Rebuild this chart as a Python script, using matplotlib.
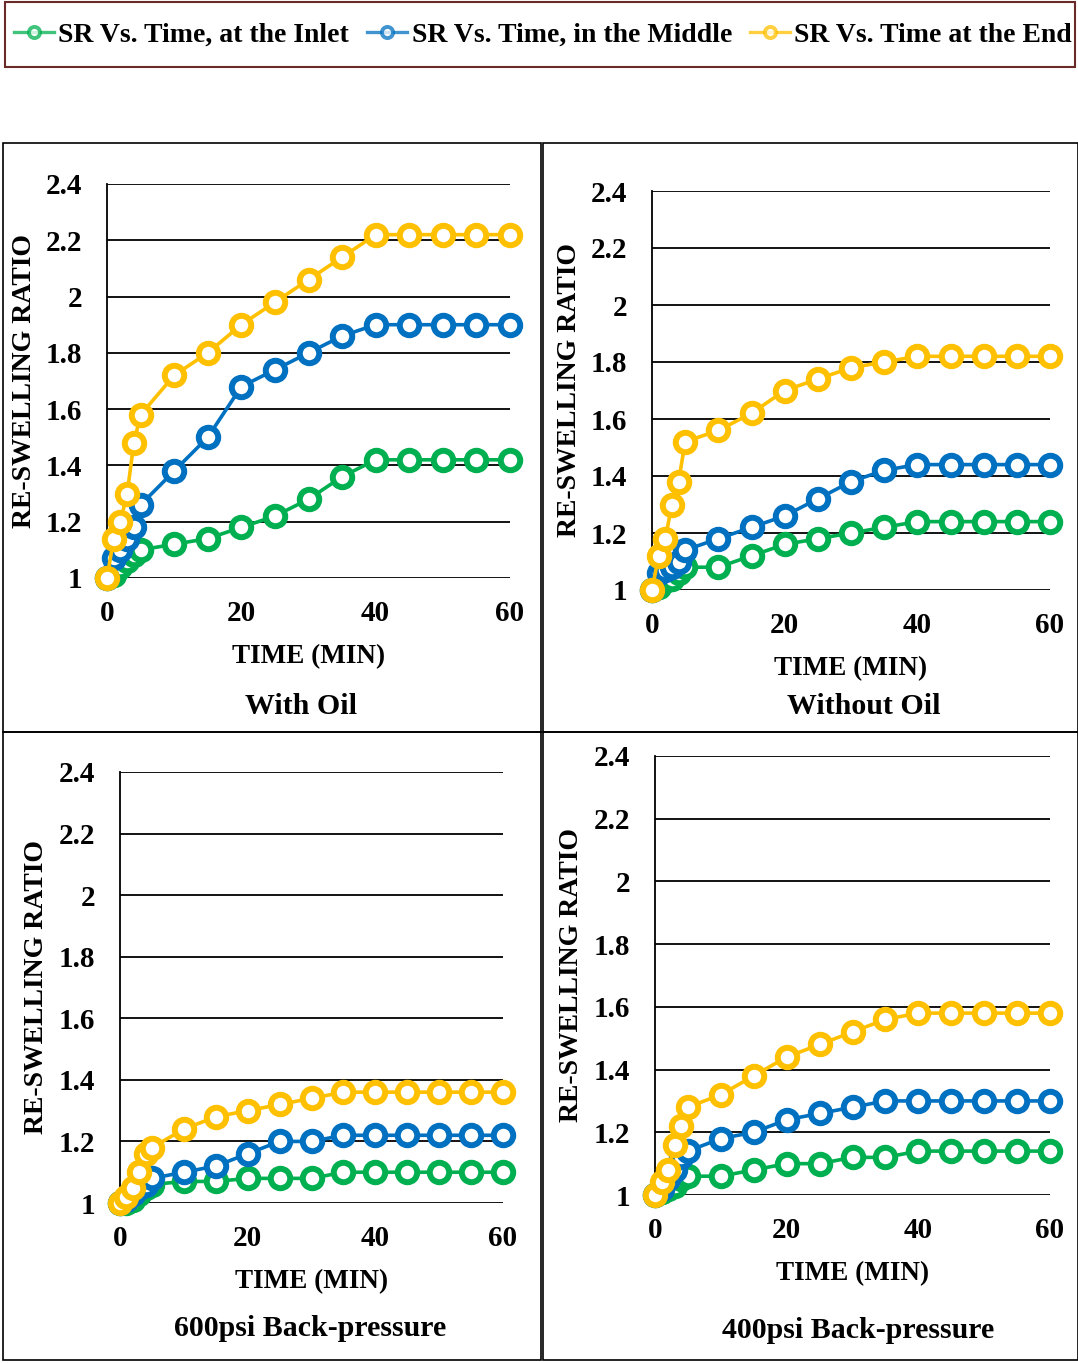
import matplotlib
matplotlib.use("Agg")
import matplotlib.pyplot as plt
from matplotlib.patches import Rectangle
from matplotlib.lines import Line2D

W, H = 1078, 1363

time_min = [0, 1, 2, 3, 4, 5, 10, 15, 20, 25, 30, 35, 40, 45, 50, 55, 60]

# With Oil
oil_inlet = [1.0, 1.01, 1.04, 1.06, 1.08, 1.10, 1.12, 1.14, 1.18, 1.22, 1.28, 1.36, 1.42, 1.42, 1.42, 1.42, 1.42]
oil_middle = [1.0, 1.07, 1.10, 1.14, 1.18, 1.26, 1.38, 1.50, 1.68, 1.74, 1.80, 1.86, 1.90, 1.90, 1.90, 1.90, 1.90]
oil_end = [1.0, 1.14, 1.20, 1.30, 1.48, 1.58, 1.72, 1.80, 1.90, 1.98, 2.06, 2.14, 2.22, 2.22, 2.22, 2.22, 2.22]

# Without Oil
nooil_inlet = [1.0, 1.01, 1.03, 1.04, 1.06, 1.08, 1.08, 1.12, 1.16, 1.18, 1.20, 1.22, 1.24, 1.24, 1.24, 1.24, 1.24]
nooil_middle = [1.0, 1.06, 1.07, 1.08, 1.10, 1.14, 1.18, 1.22, 1.26, 1.32, 1.38, 1.42, 1.44, 1.44, 1.44, 1.44, 1.44]
nooil_end = [1.0, 1.12, 1.18, 1.30, 1.38, 1.52, 1.56, 1.62, 1.70, 1.74, 1.78, 1.80, 1.82, 1.82, 1.82, 1.82, 1.82]

# 600psi Back-pressure
bp600_inlet = [1.0, 1.0, 1.01, 1.03, 1.05, 1.06, 1.07, 1.07, 1.08, 1.08, 1.08, 1.10, 1.10, 1.10, 1.10, 1.10, 1.10]
bp600_middle = [1.0, 1.01, 1.03, 1.05, 1.06, 1.08, 1.10, 1.12, 1.16, 1.20, 1.20, 1.22, 1.22, 1.22, 1.22, 1.22, 1.22]
bp600_end = [1.0, 1.02, 1.05, 1.10, 1.16, 1.18, 1.24, 1.28, 1.30, 1.32, 1.34, 1.36, 1.36, 1.36, 1.36, 1.36, 1.36]

# 400psi Back-pressure
bp400_inlet = [1.0, 1.01, 1.02, 1.03, 1.05, 1.06, 1.06, 1.08, 1.10, 1.10, 1.12, 1.12, 1.14, 1.14, 1.14, 1.14, 1.14]
bp400_middle = [1.0, 1.02, 1.05, 1.08, 1.12, 1.14, 1.18, 1.20, 1.24, 1.26, 1.28, 1.30, 1.30, 1.30, 1.30, 1.30, 1.30]
bp400_end = [1.0, 1.04, 1.08, 1.16, 1.22, 1.28, 1.32, 1.38, 1.44, 1.48, 1.52, 1.56, 1.58, 1.58, 1.58, 1.58, 1.58]

series_names = ["SR Vs. Time, at the Inlet", "SR Vs. Time, in the Middle", "SR Vs. Time at the End"]
colors = ["#00B050", "#0070C0", "#FFC000"]
y_ticks = [1, 1.2, 1.4, 1.6, 1.8, 2, 2.2, 2.4]
y_tick_labels = ["1", "1.2", "1.4", "1.6", "1.8", "2", "2.2", "2.4"]
x_ticks = [0, 20, 40, 60]

plt.rcParams['font.family'] = ['Liberation Serif', 'DejaVu Serif']

panels = [
    # title, data, axes box px (left, top, right, bottom), panel box px, ylabel x, title (x, y)
    ("With Oil", [oil_inlet, oil_middle, oil_end], (107, 184, 510, 578), (3, 143, 541, 732), 25, (301, 706)),
    ("Without Oil", [nooil_inlet, nooil_middle, nooil_end], (652, 191, 1050, 590), (543, 143, 1078, 732), 570, (864, 707)),
    ("600psi Back-pressure", [bp600_inlet, bp600_middle, bp600_end], (120, 772, 503, 1203), (3, 732, 541, 1360), 37, (310, 1328)),
    ("400psi Back-pressure", [bp400_inlet, bp400_middle, bp400_end], (655, 756, 1050, 1195), (543, 732, 1078, 1360), 572, (858, 1331)),
]

fig = plt.figure(figsize=(W / 100, H / 100), dpi=100)


def fx(x):
    return x / W


def fy(y):
    return 1 - y / H


for title, data, (l, t, r, b), (pl, pt, pr, pb), ylab_x, (tx, ty) in panels:
    fig.patches.append(Rectangle((fx(pl), fy(pb)), fx(pr - pl), (pb - pt) / H,
                                 transform=fig.transFigure, fill=False,
                                 edgecolor="black", linewidth=1.2, zorder=0))
    ax = fig.add_axes([fx(l), fy(b), fx(r - l), (b - t) / H])
    for vals, c in zip(data, colors):
        ax.plot(time_min, vals, color=c, linewidth=2.6, marker="o", markersize=14,
                markerfacecolor="white", markeredgecolor=c, markeredgewidth=4.3,
                clip_on=False, zorder=3)
    ax.set_xlim(0, 60)
    ax.set_ylim(1, 2.4)
    ax.set_yticks(y_ticks)
    ax.set_yticklabels(y_tick_labels)
    ax.set_xticks(x_ticks)
    ax.tick_params(length=0, labelsize=21)
    ax.tick_params(axis="y", pad=18)
    ax.tick_params(axis="x", pad=16)
    for lab in ax.get_xticklabels() + ax.get_yticklabels():
        lab.set_fontweight("bold")
    ax.yaxis.grid(True, color="black", linewidth=1.3)
    ax.set_axisbelow(True)
    for s in ["top", "right", "bottom"]:
        ax.spines[s].set_visible(False)
    ax.spines["left"].set_linewidth(1.3)
    ax.set_xlabel("TIME (MIN)", fontsize=19.5, fontweight="bold", labelpad=12)
    fig.text(fx(ylab_x), fy((t + b) / 2), "RE-SWELLING RATIO", rotation=90,
             fontsize=20, fontweight="bold", ha="center", va="center")
    fig.text(fx(tx), fy(ty), title, fontsize=21.5, fontweight="bold",
             ha="center", va="center")

# legend box
fig.patches.append(Rectangle((fx(5), fy(67)), fx(1070), 65 / H, transform=fig.transFigure,
                             fill=False, edgecolor="#6B2A2A", linewidth=1.5))
handles = [Line2D([0], [0], color=c, linewidth=2.4, marker="o", markersize=8,
                  markerfacecolor="white", markeredgecolor=c, markeredgewidth=2.8, alpha=0.75)
           for c in colors]
leg = fig.legend(handles, series_names, loc="center", bbox_to_anchor=(fx(543), fy(35)),
                 ncol=3, frameon=False, handlelength=1.45, handletextpad=0.15,
                 columnspacing=0.65, prop={"size": 20, "weight": "bold"})

fig.savefig("out.png", dpi=100)
